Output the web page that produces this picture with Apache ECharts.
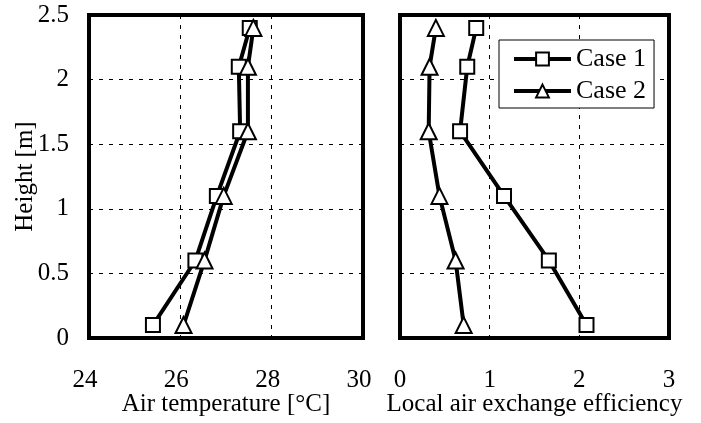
<!DOCTYPE html>
<html>
<head>
<meta charset="utf-8">
<script src="https://cdn.jsdelivr.net/npm/echarts@6/dist/echarts.min.js"></script>
<style>
  html, body { margin: 0; padding: 0; background: #fff; }
  #chart { width: 701px; height: 423px; }
</style>
</head>
<body>
<div id="chart"></div>
<script>
// heights shared by every profile
const heights = [0.1, 0.6, 1.1, 1.6, 2.1, 2.4]

// air temperature [°C]
const tempCase1 = [25.4, 26.33, 26.8, 27.31, 27.28, 27.52]
const tempCase2 = [26.07, 26.53, 26.95, 27.48, 27.48, 27.6]

// local air exchange efficiency
const effCase1 = [2.08, 1.66, 1.16, 0.67, 0.75, 0.85]
const effCase2 = [0.71, 0.62, 0.44, 0.32, 0.33, 0.40]

const font = 'Liberation Serif'
const fs = 25

const pairs = (xs) => xs.map((v, i) => [v, heights[i]])

const chart = echarts.init(document.getElementById('chart'))

const gridStyle = {
  show: true,
  outerBoundsMode: 'none',
  borderColor: '#000',
  borderWidth: 4,
  backgroundColor: '#fff'
}

const splitDash = {
  show: true,
  lineStyle: { color: '#000', type: [4, 6], width: 1 }
}

const xAxisBase = {
  type: 'value',
  axisLine: { show: false },
  axisTick: { show: false },
  splitLine: splitDash,
  axisLabel: { color: '#000', fontFamily: font, fontSize: fs, margin: 30 },
  nameLocation: 'middle',
  nameGap: 54,
  nameMoveOverlap: false,
  nameTextStyle: { color: '#000', fontFamily: font, fontSize: fs }
}

const yAxisBase = {
  type: 'value',
  min: 0,
  max: 2.5,
  interval: 0.5,
  axisLine: { show: false },
  axisTick: { show: false },
  splitLine: splitDash
}

const lineSeries = (name, data, xi, symbol, size) => ({
  name: name,
  type: 'line',
  xAxisIndex: xi,
  yAxisIndex: xi,
  data: pairs(data),
  symbol: symbol,
  symbolSize: size,
  showAllSymbol: true,
  lineStyle: { color: '#000', width: 4 },
  itemStyle: { color: '#fff', borderColor: '#000', borderWidth: 2 },
  animation: false
})

const option = {
  backgroundColor: '#fff',
  textStyle: { fontFamily: font },
  grid: [
    Object.assign({ left: 89, right: 338, top: 15, bottom: 85 }, gridStyle),
    Object.assign({ left: 400, right: 32, top: 15, bottom: 85 }, gridStyle)
  ],
  xAxis: [
    Object.assign({}, xAxisBase, {
      gridIndex: 0, min: 24, max: 30, interval: 2,
      axisLabel: { color: '#000', fontFamily: font, fontSize: fs, margin: 30, padding: [0, 8, 0, 0] },
      name: 'Air temperature [°C]'
    }),
    Object.assign({}, xAxisBase, {
      gridIndex: 1, min: 0, max: 3, interval: 1,
      name: 'Local air exchange efficiency'
    })
  ],
  yAxis: [
    Object.assign({}, yAxisBase, {
      gridIndex: 0,
      axisLabel: { color: '#000', fontFamily: font, fontSize: fs, margin: 20 },
      name: 'Height [m]',
      nameLocation: 'middle',
      nameGap: 51,
      nameMoveOverlap: false,
      nameTextStyle: { color: '#000', fontFamily: font, fontSize: fs }
    }),
    Object.assign({}, yAxisBase, {
      gridIndex: 1,
      axisLabel: { show: false }
    })
  ],
  legend: {
    data: ['Case 1', 'Case 2'],
    orient: 'vertical',
    left: 499,
    top: 40,
    padding: [6, 8, 4, 13],
    itemGap: 6,
    itemWidth: 57,
    itemHeight: 16,
    backgroundColor: '#fff',
    borderColor: '#000',
    borderWidth: 1,
    lineStyle: { color: '#000', width: 4 },
    textStyle: { color: '#000', fontFamily: font, fontSize: 26 }
  },
  series: [
    lineSeries('Case 1', tempCase1, 0, 'rect', 14),
    lineSeries('Case 2', tempCase2, 0, 'triangle', 16),
    lineSeries('Case 1', effCase1, 1, 'rect', 14),
    lineSeries('Case 2', effCase2, 1, 'triangle', 16)
  ]
}

chart.setOption(option)
</script>
</body>
</html>
